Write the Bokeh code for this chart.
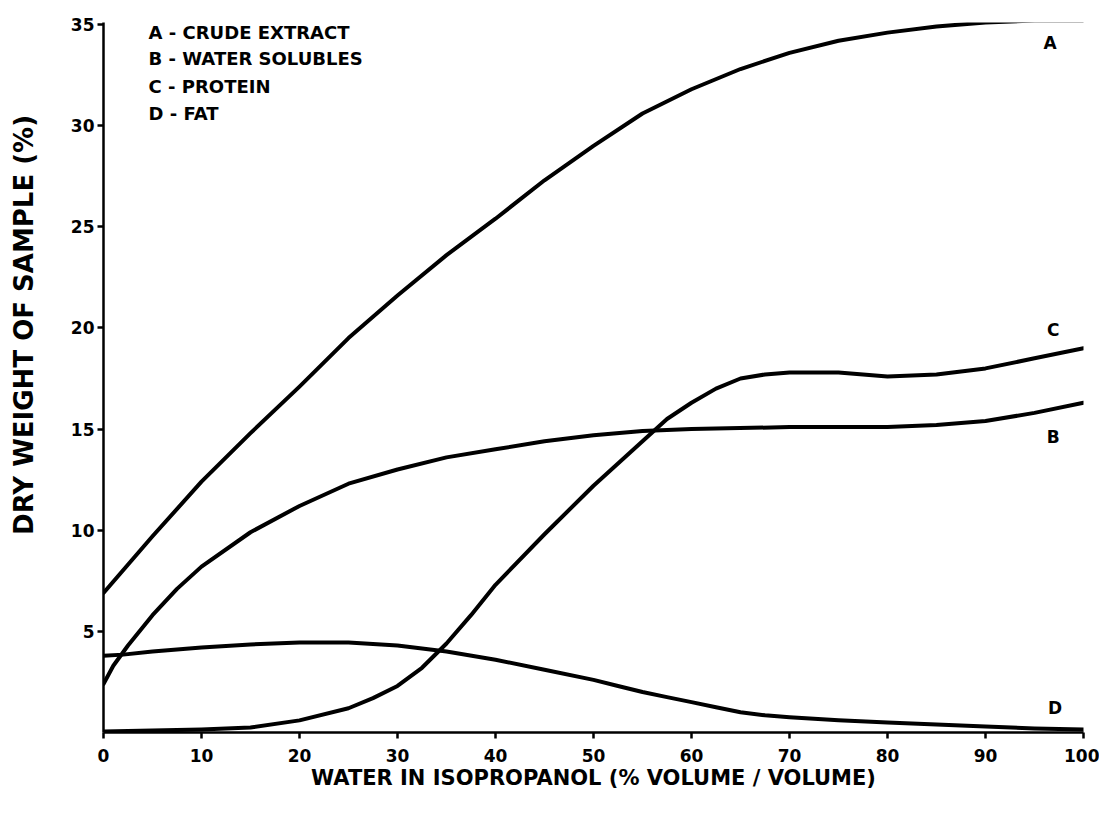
from bokeh.plotting import figure
from bokeh.layouts import row
from bokeh.models import Range1d, FixedTicker, ColumnDataSource
from bokeh.core.properties import value
from bokeh.embed import file_html
from bokeh.resources import INLINE
import math

# ---- data ----
x_a = [0, 5, 10, 15, 20, 25, 30, 35, 40, 45, 50, 55, 60, 65, 70, 75, 80, 85, 90, 95, 100]
crude_extract = [6.9, 9.7, 12.4, 14.8, 17.1, 19.5, 21.6, 23.6, 25.4, 27.3, 29.0, 30.6, 31.8, 32.8, 33.6, 34.2, 34.6, 34.9, 35.1, 35.2, 35.2]

x_b = [0, 1, 2.5, 5, 7.5, 10, 15, 20, 25, 30, 35, 40, 45, 50, 55, 60, 70, 80, 85, 90, 95, 100]
water_solubles = [2.4, 3.3, 4.3, 5.8, 7.1, 8.2, 9.9, 11.2, 12.3, 13.0, 13.6, 14.0, 14.4, 14.7, 14.9, 15.0, 15.1, 15.1, 15.2, 15.4, 15.8, 16.3]

x_c = [0, 5, 10, 15, 20, 25, 27.5, 30, 32.5, 35, 37.5, 40, 45, 50, 55, 57.5, 60, 62.5, 65, 67.5, 70, 75, 80, 85, 90, 95, 100]
protein = [0.05, 0.1, 0.15, 0.25, 0.6, 1.2, 1.7, 2.3, 3.2, 4.4, 5.8, 7.3, 9.8, 12.2, 14.4, 15.5, 16.3, 17.0, 17.5, 17.7, 17.8, 17.8, 17.6, 17.7, 18.0, 18.5, 19.0]

x_d = [0, 2, 5, 10, 15, 20, 25, 30, 35, 40, 45, 50, 52.5, 55, 57.5, 60, 62.5, 65, 67.5, 70, 75, 80, 85, 90, 95, 100]
fat = [3.8, 3.85, 4.0, 4.2, 4.35, 4.45, 4.45, 4.3, 4.0, 3.6, 3.1, 2.6, 2.3, 2.0, 1.75, 1.5, 1.25, 1.0, 0.85, 0.75, 0.6, 0.5, 0.4, 0.3, 0.2, 0.15]

x_ticks = [0, 10, 20, 30, 40, 50, 60, 70, 80, 90, 100]
y_ticks = [5, 10, 15, 20, 25, 30, 35]

legend_lines = ["A - CRUDE EXTRACT", "B - WATER SOLUBLES", "C - PROTEIN", "D - FAT"]
curve_keys = ["A", "B", "C", "D"]

x_title = "WATER IN ISOPROPANOL (% VOLUME / VOLUME)"
y_title = "DRY WEIGHT OF SAMPLE (%)"

FONT = "DejaVu Sans"
TITLE_W = 40

# narrow panel holding the vertical axis title
t = figure(width=TITLE_W, height=817, output_backend="svg", toolbar_location=None,
           x_range=Range1d(0, TITLE_W), y_range=Range1d(817, 0),
           min_border=0, min_border_left=0, min_border_right=0, min_border_top=0,
           min_border_bottom=0, outline_line_color=None)
t.axis.visible = False
t.grid.visible = False
t.text(x=[23], y=[348], text=[y_title], angle=math.pi / 2, text_font=value(FONT),
       text_font_style="bold", text_font_size="26px", text_align="center",
       text_baseline="middle", text_color="black")

p = figure(width=1099 - TITLE_W, height=817, output_backend="svg", toolbar_location=None,
           x_range=Range1d(0, 100), y_range=Range1d(0, 35.1),
           min_border_left=103 - TITLE_W, min_border_right=16, min_border_top=22, min_border_bottom=85)
p.outline_line_color = None
p.xgrid.visible = False
p.ygrid.visible = False

for ax in (p.xaxis[0], p.yaxis[0]):
    ax.axis_line_width = 2.5
    ax.axis_line_color = "black"
    ax.major_tick_line_width = 2.5
    ax.major_tick_line_color = "black"
    ax.major_tick_in = 0
    ax.major_tick_out = 6
    ax.minor_tick_line_color = None
    ax.major_label_text_font = FONT
    ax.major_label_text_font_style = "bold"
    ax.major_label_text_font_size = "17px"
    ax.major_label_text_color = "black"

p.xaxis[0].ticker = FixedTicker(ticks=x_ticks)
p.yaxis[0].ticker = FixedTicker(ticks=y_ticks)
p.xaxis[0].major_label_standoff = 10
p.yaxis[0].major_label_standoff = 3

p.xaxis[0].axis_label = x_title
p.xaxis[0].axis_label_text_font = FONT
p.xaxis[0].axis_label_text_font_style = "bold"
p.xaxis[0].axis_label_text_font_size = "21px"
p.xaxis[0].axis_label_text_color = "black"
p.xaxis[0].axis_label_standoff = 1

for xs, ys in ((x_a, crude_extract), (x_b, water_solubles), (x_c, protein), (x_d, fat)):
    p.line(xs, ys, line_color="black", line_width=4, line_join="round", line_cap="round")

# legend text block (top left)
leg_src = ColumnDataSource(dict(x=[4.6] * 4, y=[34.6, 33.3, 31.95, 30.6], t=legend_lines))
p.text(x="x", y="y", text="t", source=leg_src, text_font=value(FONT), text_font_style="bold",
       text_font_size="18px", text_align="left", text_baseline="middle", text_color="black")

# curve end letters
key_src = ColumnDataSource(dict(x=[96.6, 96.9, 96.9, 97.1], y=[34.1, 14.6, 19.9, 1.2], t=curve_keys))
p.text(x="x", y="y", text="t", source=key_src, text_font=value(FONT), text_font_style="bold",
       text_font_size="17px", text_align="center", text_baseline="middle", text_color="black")

layout = row(t, p, spacing=0)
open("out.html", "w").write(file_html(layout, INLINE))
